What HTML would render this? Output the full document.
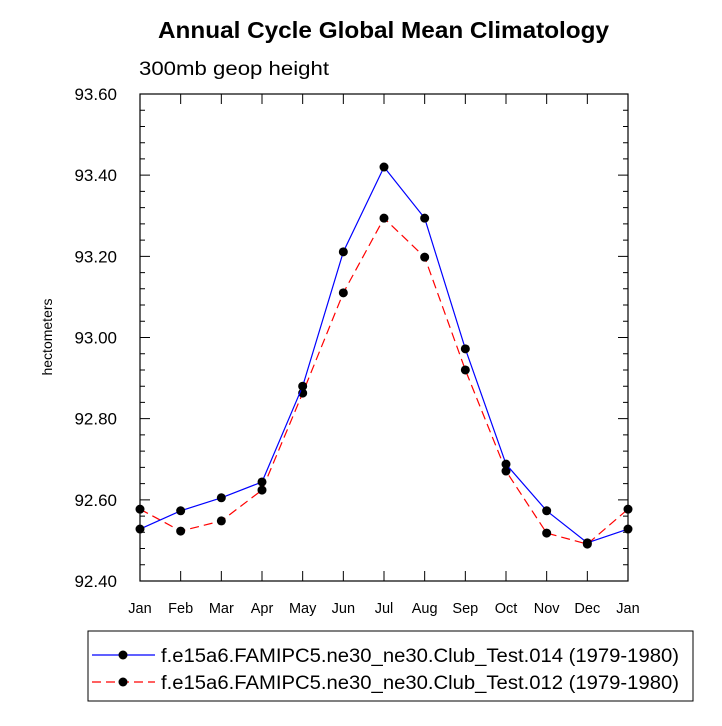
<!DOCTYPE html>
<html><head><meta charset="utf-8"><style>
body{margin:0;background:#fff;}
svg text{font-family:"Liberation Sans",Arial,sans-serif;}
</style></head><body>
<svg id="chart" width="722" height="721" viewBox="0 0 722 721" xmlns="http://www.w3.org/2000/svg">
<text x="158" y="38" font-size="23" font-weight="bold" textLength="451" lengthAdjust="spacingAndGlyphs">Annual Cycle Global Mean Climatology</text>
<text x="139" y="75" font-size="19" textLength="190" lengthAdjust="spacingAndGlyphs">300mb geop height</text>
<text transform="translate(52,337) rotate(-90)" text-anchor="middle" font-size="14">hectometers</text>
<g id="axes"></g>
<g id="series"></g>
<rect x="88" y="631" width="605" height="70" fill="none" stroke="#000" stroke-width="1"/>
<g>
<line x1="92" y1="655" x2="155" y2="655" stroke="#0000ff" stroke-width="1.2"/>
<circle cx="123" cy="655" r="4.5" fill="#000"/>
<text x="161" y="662" font-size="19" textLength="518" lengthAdjust="spacingAndGlyphs">f.e15a6.FAMIPC5.ne30_ne30.Club_Test.014 (1979-1980)</text>
</g>
<g>
<line x1="92" y1="682" x2="155" y2="682" stroke="#ff0000" stroke-width="1.2" stroke-dasharray="9,5"/>
<circle cx="123" cy="682" r="4.5" fill="#000"/>
<text x="161" y="689" font-size="19" textLength="518" lengthAdjust="spacingAndGlyphs">f.e15a6.FAMIPC5.ne30_ne30.Club_Test.012 (1979-1980)</text>
</g>
</svg>
<script>
const months=["Jan","Feb","Mar","Apr","May","Jun","Jul","Aug","Sep","Oct","Nov","Dec","Jan"];
const test014=[92.528,92.573,92.605,92.644,92.880,93.211,93.420,93.294,92.972,92.688,92.573,92.494,92.528];
const test012=[92.577,92.523,92.548,92.624,92.863,93.110,93.294,93.198,92.920,92.671,92.518,92.491,92.577];
const yTicks=[92.40,92.60,92.80,93.00,93.20,93.40,93.60];
const yMin=92.4,yMax=93.6,L=140,R=628,T=94,B=581;
const NS="http://www.w3.org/2000/svg";
function xs(i){return L+(R-L)*i/(months.length-1);}
function ys(v){return B-(v-yMin)/(yMax-yMin)*(B-T);}
function mk(tag,attrs,parent){const e=document.createElementNS(NS,tag);for(const k in attrs)e.setAttribute(k,attrs[k]);parent.appendChild(e);return e;}
const ax=document.getElementById('axes');
const frame=mk('rect',{x:L,y:T,width:R-L,height:B-T,fill:'none',stroke:'#000','stroke-width':1.2},ax);


let d='';
yTicks.forEach(v=>{const y=ys(v);d+=`M${L},${y}h10M${R},${y}h-10`;});
for(let k=0;k<yTicks.length-1;k++){for(let m=1;m<5;m++){const y=ys(yTicks[k]+(yTicks[k+1]-yTicks[k])*m/5);d+=`M${L},${y}h5M${R},${y}h-5`;}}
months.forEach((m,i)=>{const x=xs(i);d+=`M${x},${B}v-10M${x},${T}v10`;});
const tk=mk('path',{d:d,stroke:'#000','stroke-width':1,fill:'none'},ax);


yTicks.forEach(v=>{const t=mk('text',{x:117,y:ys(v)+6,'text-anchor':'end','font-size':17},ax);t.textContent=v.toFixed(2);

});
months.forEach((m,i)=>{const t=mk('text',{x:xs(i),y:613,'text-anchor':'middle','font-size':14.5},ax);t.textContent=m;

});
const sg=document.getElementById('series');
function series(vals,color,dash,name){
 const g=mk('g',{},sg);
 
 
 const pts=vals.map((v,i)=>xs(i)+','+ys(v)).join(' ');
 const a={points:pts,fill:'none',stroke:color,'stroke-width':1.2};if(dash)a['stroke-dasharray']=dash;
 mk('polyline',a,g);
 vals.forEach((v,i)=>{const c=mk('circle',{cx:xs(i),cy:ys(v),r:4.5,fill:'#000'},g);
 
 });
}
series(test012,'#ff0000','9,5','series-test012');
series(test014,'#0000ff',null,'series-test014');
</script>
</body></html>
